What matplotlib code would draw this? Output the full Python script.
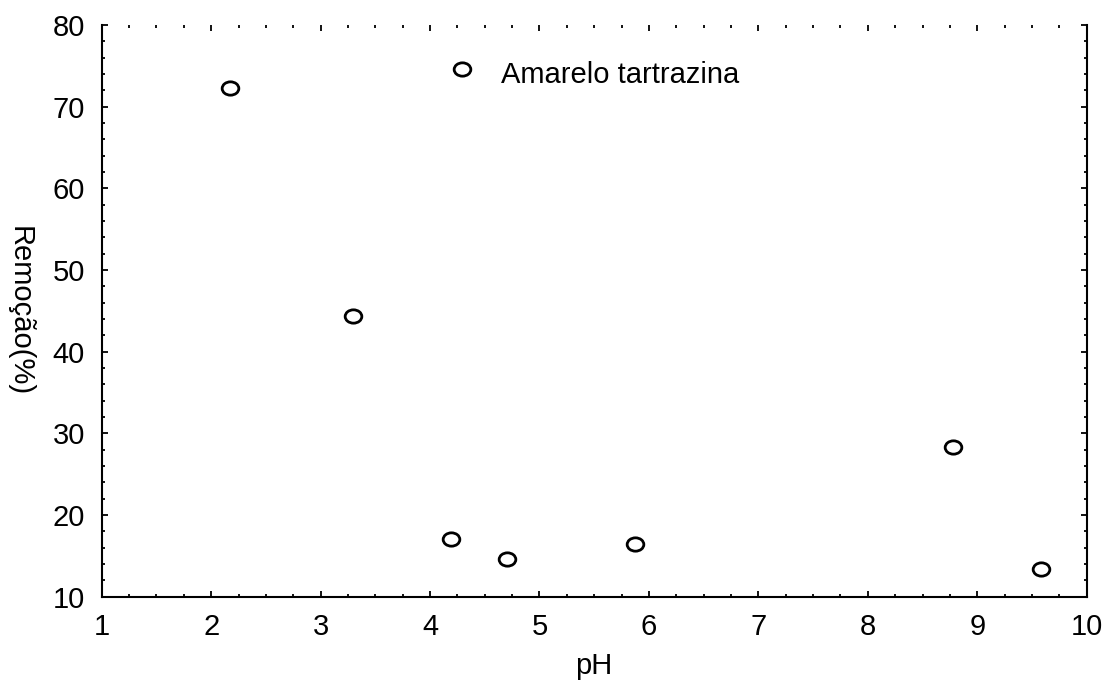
import matplotlib
matplotlib.use("Agg")
import matplotlib.pyplot as plt
from matplotlib.path import Path
from matplotlib.ticker import MultipleLocator
import numpy as np

plt.rcParams['font.family'] = ['Liberation Sans', 'DejaVu Sans']

# dados
ph = [2.17, 3.30, 4.19, 4.70, 5.87, 8.78, 9.58]
remocao = [72.3, 44.4, 17.1, 14.6, 16.5, 28.3, 13.4]
serie = "Amarelo tartrazina"

# marcador elíptico (mais largo que alto)
circ = Path.unit_circle()
elipse = Path(circ.vertices * np.array([1.25, 1.0]), circ.codes)

fig = plt.figure(figsize=(11.03, 6.86), dpi=100)
ax = fig.add_axes([101.7 / 1103, 1 - 596.7 / 686, 985 / 1103, 571.7 / 686])

ax.plot(ph, remocao, linestyle='none', marker=elipse, markersize=12,
        markerfacecolor='white', markeredgecolor='black', markeredgewidth=2)

# legenda manual
ax.plot([4.29], [74.6], linestyle='none', marker=elipse, markersize=12,
        markerfacecolor='white', markeredgecolor='black', markeredgewidth=2)
ax.text(4.65, 73.9, serie, fontsize=21, va='center', ha='left')

ax.set_xlim(1, 10)
ax.set_ylim(10, 80)
ax.xaxis.set_major_locator(MultipleLocator(1))
ax.xaxis.set_minor_locator(MultipleLocator(0.25))
ax.yaxis.set_major_locator(MultipleLocator(10))
ax.yaxis.set_minor_locator(MultipleLocator(2))

ax.tick_params(which='both', direction='in', top=True, right=True,
               labelsize=21, width=1.3, pad=12)
ax.tick_params(which='major', length=4)
ax.tick_params(which='minor', length=2.5)

ax.spines['top'].set_visible(False)
for s in ['left', 'bottom', 'right']:
    ax.spines[s].set_linewidth(1.5)

ax.set_xlabel("pH", fontsize=21, labelpad=8)
ax.set_ylabel("Remoção(%)", fontsize=21, rotation=-90, labelpad=34)

fig.savefig("out.png", dpi=100)
